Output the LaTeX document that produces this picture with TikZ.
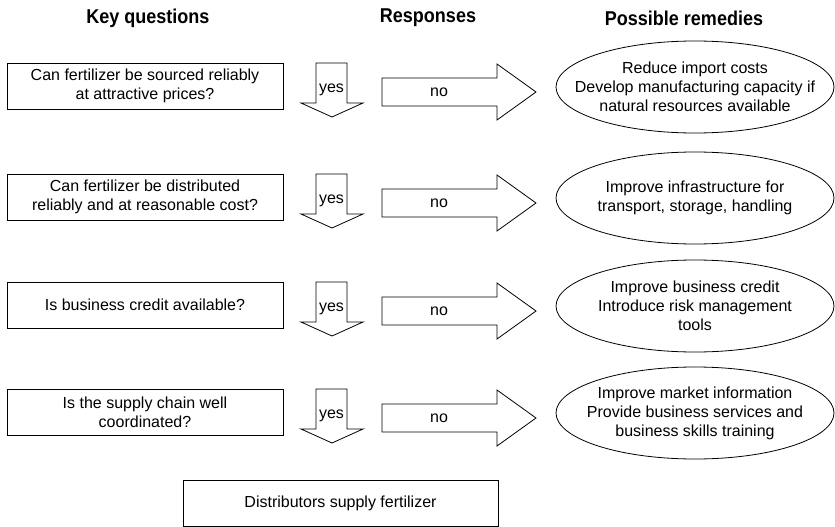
\documentclass[tikz,border=0pt]{standalone}
\usepackage{fontspec}
\setmainfont{Liberation Sans}
\usetikzlibrary{shapes.geometric}
\newcommand{\bodyfont}{\fontsize{16}{19}\selectfont}
\newcommand{\hdrfont}{\fontsize{20}{24}\selectfont\bfseries}
\begin{document}
\begin{tikzpicture}[x=1pt,y=-1pt,line width=0.8pt,
  qbox/.style={draw, minimum width=276pt, minimum height=46pt, align=center, font=\bodyfont, inner sep=0pt},
  rem/.style={align=center, font=\bodyfont, inner sep=0pt},
  remshape/.style={draw},
  blockarrow/.style={draw, line join=miter},
  lbl/.style={font=\bodyfont, inner sep=0pt},
  hdr/.style={font=\hdrfont, inner sep=0pt}]
\useasboundingbox (0,0) rectangle (835,527);
\node[hdr] (h1) at (148,18) {\scalebox{0.9}[1]{Key questions}};
\node[hdr] (h2) at (428,18) {\scalebox{0.9}[1]{Responses}};
\node[hdr] (h3) at (684,18) {\scalebox{0.9}[1]{Possible remedies}};
\foreach \T/\q/\r/\i in {
  63/{Can fertilizer be sourced reliably\\at attractive prices?}/{Reduce import costs\\Develop manufacturing capacity if\\natural resources available}/1,
  174/{Can fertilizer be distributed\\reliably and at reasonable cost?}/{Improve infrastructure for\\transport, storage, handling}/2,
  282/{Is business credit available?}/{Improve business credit\\Introduce risk management\\tools}/3,
  389/{Is the supply chain well\\coordinated?}/{Improve market information\\Provide business services and\\business skills training}/4} {
  \node[qbox] (q\i) at (145,\T+23) {\q};
  \draw[blockarrow] (316,\T) -- (347,\T) -- (347,\T+40) -- (363,\T+40) -- (332,\T+54) -- (301,\T+40) -- (316,\T+40) -- cycle;
  \node[lbl] (yes\i) at (331.5,\T+27) {yes};
  \draw[blockarrow] (382,\T+15) -- (497,\T+15) -- (497,\T+1) -- (536,\T+29) -- (497,\T+57) -- (497,\T+43) -- (382,\T+43) -- cycle;
  \node[lbl] (no\i) at (439,\T+29) {no};
  \node[rem] (r\i) at (695,\T+24) {\r};
  \draw[remshape] (r\i.center) ellipse [x radius=139, y radius=46];
}
\node[qbox, minimum width=315pt] (dist) at (340.5,503) {Distributors supply fertilizer};
\end{tikzpicture}
\end{document}
